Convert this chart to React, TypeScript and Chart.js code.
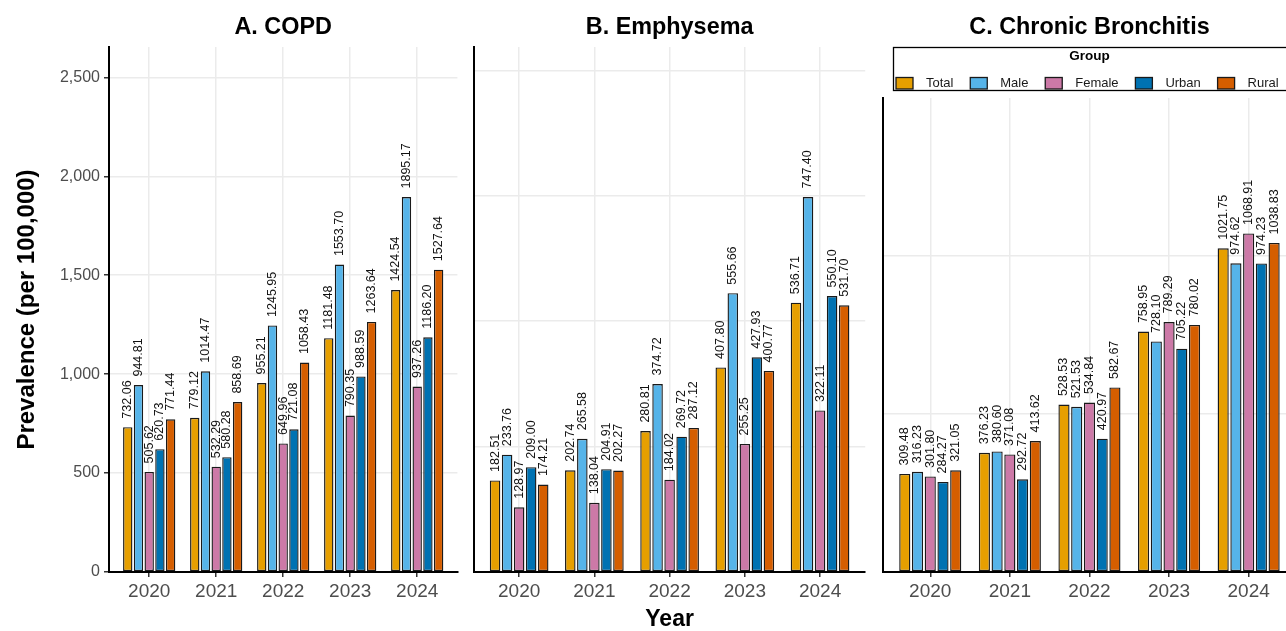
import React, { useEffect, useRef } from "react";
import { Chart, registerables } from "chart.js";

Chart.register(...registerables);

const FONT = "'Liberation Sans', Arial, Helvetica, sans-serif";

const YEARS = ["2020", "2021", "2022", "2023", "2024"];
const GROUPS = ["Total", "Male", "Female", "Urban", "Rural"];
const GROUP_COLORS = ["#E69F00", "#56B4E9", "#CC79A7", "#0072B2", "#D55E00"];

// A. COPD
const COPD_TOTAL = [732.06, 779.12, 955.21, 1181.48, 1424.54];
const COPD_MALE = [944.81, 1014.47, 1245.95, 1553.7, 1895.17];
const COPD_FEMALE = [505.62, 532.29, 649.96, 790.35, 937.26];
const COPD_URBAN = [620.73, 580.28, 721.08, 988.59, 1186.2];
const COPD_RURAL = [771.44, 858.69, 1058.43, 1263.64, 1527.64];

// B. Emphysema
const EMPH_TOTAL = [182.51, 202.74, 280.81, 407.8, 536.71];
const EMPH_MALE = [233.76, 265.58, 374.72, 555.66, 747.4];
const EMPH_FEMALE = [128.97, 138.04, 184.02, 255.25, 322.11];
const EMPH_URBAN = [209.0, 204.91, 269.72, 427.93, 550.1];
const EMPH_RURAL = [174.21, 202.27, 287.12, 400.77, 531.7];

// C. Chronic Bronchitis
const CB_TOTAL = [309.48, 376.23, 528.53, 758.95, 1021.75];
const CB_MALE = [316.23, 380.6, 521.53, 728.1, 974.62];
const CB_FEMALE = [301.8, 371.08, 534.84, 789.29, 1068.91];
const CB_URBAN = [284.27, 292.72, 420.97, 705.22, 974.23];
const CB_RURAL = [321.05, 413.62, 582.67, 780.02, 1038.83];

const A_Y_TICKS = [0, 500, 1000, 1500, 2000, 2500];
const B_Y_TICKS = [0, 250, 500, 750, 1000];
const C_Y_TICKS = [0, 500, 1000];

const H = 631;
const BOTTOM = 572;

type PanelCfg = {
  title: string;
  series: number[][];
  yTicks: number[];
  left: number;
  width: number;
  plotLeft: number;
  plotRight: number;
  plotTop: number;
  showYLabels: boolean;
  yTitle?: string;
  xTitle?: string;
  legend?: boolean;
};

const PANELS: PanelCfg[] = [
  {
    title: "A. COPD",
    series: [COPD_TOTAL, COPD_MALE, COPD_FEMALE, COPD_URBAN, COPD_RURAL],
    yTicks: A_Y_TICKS,
    left: 0,
    width: 462,
    plotLeft: 109,
    plotRight: 457.4,
    plotTop: 47,
    showYLabels: true,
    yTitle: "Prevalence (per 100,000)",
  },
  {
    title: "B. Emphysema",
    series: [EMPH_TOTAL, EMPH_MALE, EMPH_FEMALE, EMPH_URBAN, EMPH_RURAL],
    yTicks: B_Y_TICKS,
    left: 462,
    width: 408,
    plotLeft: 474,
    plotRight: 865.2,
    plotTop: 47,
    showYLabels: false,
    xTitle: "Year",
  },
  {
    title: "C. Chronic Bronchitis",
    series: [CB_TOTAL, CB_MALE, CB_FEMALE, CB_URBAN, CB_RURAL],
    yTicks: C_Y_TICKS,
    left: 872,
    width: 430,
    plotLeft: 882.5,
    plotRight: 1296.4,
    plotTop: 98,
    showYLabels: false,
    legend: true,
  },
];

const valueLabels = {
  id: "valueLabels",
  afterDatasetsDraw(chart: any) {
    const ctx = chart.ctx;
    ctx.save();
    ctx.font = `12.5px ${FONT}`;
    ctx.fillStyle = "#111";
    ctx.textAlign = "left";
    ctx.textBaseline = "middle";
    chart.data.datasets.forEach((ds: any, di: number) => {
      const meta = chart.getDatasetMeta(di);
      meta.data.forEach((el: any, i: number) => {
        const v = ds.data[i].y as number;
        ctx.save();
        ctx.translate(el.x, el.y - 8.5);
        ctx.rotate(-Math.PI / 2);
        ctx.fillText(v.toFixed(2), 0, 0);
        ctx.restore();
      });
    });
    ctx.restore();
  },
};

const panelTitle = {
  id: "panelTitle",
  afterDraw(chart: any, _args: any, opts: any) {
    const ctx = chart.ctx;
    const { left, right } = chart.chartArea;
    ctx.save();
    ctx.font = `bold 23.4px ${FONT}`;
    ctx.fillStyle = "#000";
    ctx.textAlign = "center";
    ctx.textBaseline = "middle";
    ctx.fillText(opts.text, (left + right) / 2, 28);
    ctx.restore();
  },
};

const groupLegend = {
  id: "groupLegend",
  afterDraw(chart: any, _args: any, opts: any) {
    if (!opts.show) return;
    const ctx = chart.ctx;
    const off = opts.offset as number;
    const { left, right } = chart.chartArea;
    ctx.save();
    ctx.strokeStyle = "#000";
    ctx.lineWidth = 1.3;
    ctx.strokeRect(893.5 - off, 47.5, 400, 43);
    ctx.fillStyle = "#000";
    ctx.font = `bold 13.5px ${FONT}`;
    ctx.textAlign = "center";
    ctx.textBaseline = "middle";
    ctx.fillText("Group", (left + right) / 2, 56.5);
    ctx.font = `13px ${FONT}`;
    ctx.textAlign = "left";
    let x = 896 - off;
    GROUPS.forEach((g, i) => {
      ctx.fillStyle = GROUP_COLORS[i];
      ctx.fillRect(x, 77.5, 17, 11.5);
      ctx.strokeStyle = "#1a1a1a";
      ctx.lineWidth = 1.3;
      ctx.strokeRect(x, 77.5, 17, 11.5);
      ctx.fillStyle = "#1a1a1a";
      const tx = x + 30;
      ctx.fillText(g, tx, 83.5);
      x = tx + ctx.measureText(g).width + 16.8;
    });
    ctx.restore();
  },
};

function buildConfig(p: PanelCfg): any {
  const ymax = Math.max(...p.series.flat()) * 1.4;
  const gridColor = (c: any) => (c.tick && c.tick.value === 0 ? "rgba(0,0,0,0)" : "#EBEBEB");
  return {
    type: "bar",
    data: {
      datasets: p.series.map((vals, gi) => ({
        label: GROUPS[gi],
        data: vals.map((v, i) => ({ x: i + 1, y: v })),
        backgroundColor: GROUP_COLORS[gi],
        borderColor: "#1a1a1a",
        borderWidth: 1.4,
        borderSkipped: false,
        categoryPercentage: 0.8,
        barPercentage: 0.875,
      })),
    },
    options: {
      responsive: false,
      animation: false,
      devicePixelRatio: 1,
      events: [],
      layout: {
        padding: {
          left: 0,
          right: p.left + p.width - p.plotRight,
          top: p.plotTop,
          bottom: 0,
        },
      },
      plugins: {
        legend: { display: false },
        tooltip: { enabled: false },
        title: { display: false },
        panelTitle: { text: p.title },
        groupLegend: { show: !!p.legend, offset: p.left },
      },
      scales: {
        x: {
          type: "linear",
          min: 0.4,
          max: 5.6,
          offset: false,
          afterBuildTicks: (s: any) => {
            s.ticks = YEARS.map((_, i) => ({ value: i + 1 }));
          },
          afterFit: (s: any) => {
            s.height = H - BOTTOM;
          },
          ticks: {
            autoSkip: false,
            maxRotation: 0,
            padding: 3,
            color: "#4D4D4D",
            font: { family: FONT, size: 19 },
            callback: (v: number) => YEARS[Math.round(v) - 1] ?? "",
          },
          grid: {
            offset: false,
            color: "#EBEBEB",
            lineWidth: 1.5,
            drawTicks: true,
            tickLength: 5,
            tickColor: "#333333",
            tickWidth: 1.5,
          },
          border: { display: true, color: "#000", width: 2, z: 1 },
          title: p.xTitle
            ? {
                display: true,
                text: p.xTitle,
                color: "#000",
                font: { family: FONT, size: 23, weight: "bold", lineHeight: 1 },
                padding: { top: 0, bottom: 0 },
              }
            : { display: false },
        },
        y: {
          type: "linear",
          min: 0,
          max: ymax,
          afterBuildTicks: (s: any) => {
            s.ticks = p.yTicks.map((v) => ({ value: v }));
          },
          afterFit: (s: any) => {
            s.width = p.plotLeft - p.left;
          },
          ticks: {
            display: p.showYLabels,
            padding: 4,
            color: "#4D4D4D",
            font: { family: FONT, size: 16 },
            callback: (v: number) => v.toLocaleString("en-US"),
          },
          grid: {
            color: gridColor,
            lineWidth: 1.5,
            drawTicks: p.showYLabels,
            tickLength: 5,
            tickColor: "#333333",
            tickWidth: 1.5,
          },
          border: { display: true, color: "#000", width: 2, z: 1 },
          title: p.yTitle
            ? {
                display: true,
                text: p.yTitle,
                color: "#000",
                font: { family: FONT, size: 24, weight: "bold", lineHeight: 1 },
                padding: { top: 15, bottom: 0 },
              }
            : { display: false },
        },
      },
    },
    plugins: [valueLabels, panelTitle, groupLegend],
  };
}

function Panel({ cfg }: { cfg: PanelCfg }) {
  const ref = useRef<HTMLCanvasElement | null>(null);
  useEffect(() => {
    if (!ref.current) return;
    const chart = new Chart(ref.current, buildConfig(cfg));
    return () => chart.destroy();
  }, [cfg]);
  return (
    <canvas
      ref={ref}
      width={cfg.width}
      height={H}
      style={{ position: "absolute", left: cfg.left, top: 0, width: cfg.width, height: H }}
    />
  );
}

export default function App() {
  return (
    <div
      style={{
        position: "fixed",
        left: 0,
        top: 0,
        width: 1286,
        height: H,
        overflow: "hidden",
        background: "#fff",
      }}
    >
      {PANELS.map((p) => (
        <Panel key={p.title} cfg={p} />
      ))}
    </div>
  );
}
